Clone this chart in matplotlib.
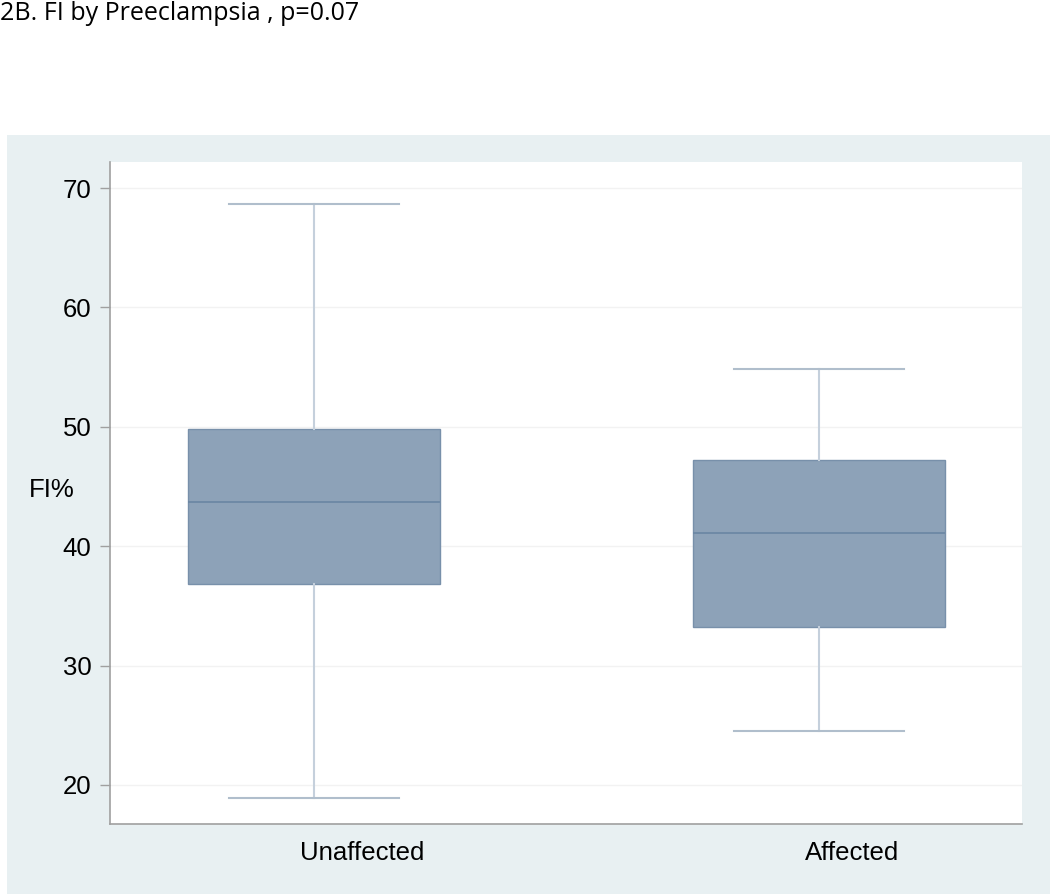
import matplotlib.pyplot as plt
from matplotlib.patches import Rectangle
from matplotlib.transforms import ScaledTranslation

# box statistics
groups = ['Unaffected', 'Affected']
whis_lo = [18.9, 24.5]
q1 = [36.8, 33.2]
medians = [43.7, 41.1]
q3 = [49.8, 47.2]
whis_hi = [68.7, 54.8]
yticks = [20, 30, 40, 50, 60, 70]

stats = []
for i in range(len(groups)):
    stats.append(dict(label=groups[i], whislo=whis_lo[i], q1=q1[i], med=medians[i],
                      q3=q3[i], whishi=whis_hi[i], fliers=[]))

fig = plt.figure(figsize=(10.5, 8.94), dpi=100)
fig.patch.set_facecolor('white')

# light panel behind the plot
fig.patches.append(Rectangle((7/1050, 0), 1, (894-135)/894, transform=fig.transFigure,
                             facecolor='#E8F0F2', edgecolor='none', zorder=-1))

ax = fig.add_axes([110/1050, (894-824)/894, 912/1050, 662/894])
ax.set_facecolor('white')

ax.bxp(stats, positions=[1, 2], widths=0.5, capwidths=0.335, patch_artist=True,
       showfliers=False,
       boxprops=dict(facecolor='#8DA2B8', edgecolor='#7890AA', linewidth=1),
       medianprops=dict(color='#6A86A3', linewidth=1.2),
       whiskerprops=dict(color='#C5D0DC', linewidth=1.5),
       capprops=dict(color='#B0BECC', linewidth=1.5))

ax.set_xlim(0.596, 2.402)
ax.set_ylim(16.73, 72.18)
ax.set_yticks(yticks)
ax.set_yticklabels([str(v) for v in yticks])
ax.yaxis.grid(True, color='#F2F2F2', linewidth=1)
ax.set_axisbelow(True)

for s in ['top', 'right']:
    ax.spines[s].set_visible(False)
for s in ['left', 'bottom']:
    ax.spines[s].set_color('#A0A0A0')
    ax.spines[s].set_linewidth(1.2)

ax.tick_params(axis='y', length=7.5, width=1, color='#A0A0A0', pad=6,
               labelsize=18.5, labelfontfamily='Liberation Sans')
ax.tick_params(axis='x', length=0, pad=12, labelsize=18.5, labelfontfamily='Liberation Sans')

# category labels start a little left of the box centre
shift = ScaledTranslation(-14/100, 0, fig.dpi_scale_trans)
for lab in ax.get_xticklabels():
    lab.set_ha('left')
    lab.set_transform(lab.get_transform() + shift)

ax.set_ylabel('FI%', rotation=0, fontsize=18.5, family='Liberation Sans',
              ha='center', va='center')
ax.yaxis.set_label_coords(-0.0636, 0.5045)

fig.text(0, 1 - 1/894, '2B. FI by Preeclampsia , p=0.07', ha='left', va='top',
         fontsize=18, family='Open Sans')

fig.savefig('out.png', dpi=100)
